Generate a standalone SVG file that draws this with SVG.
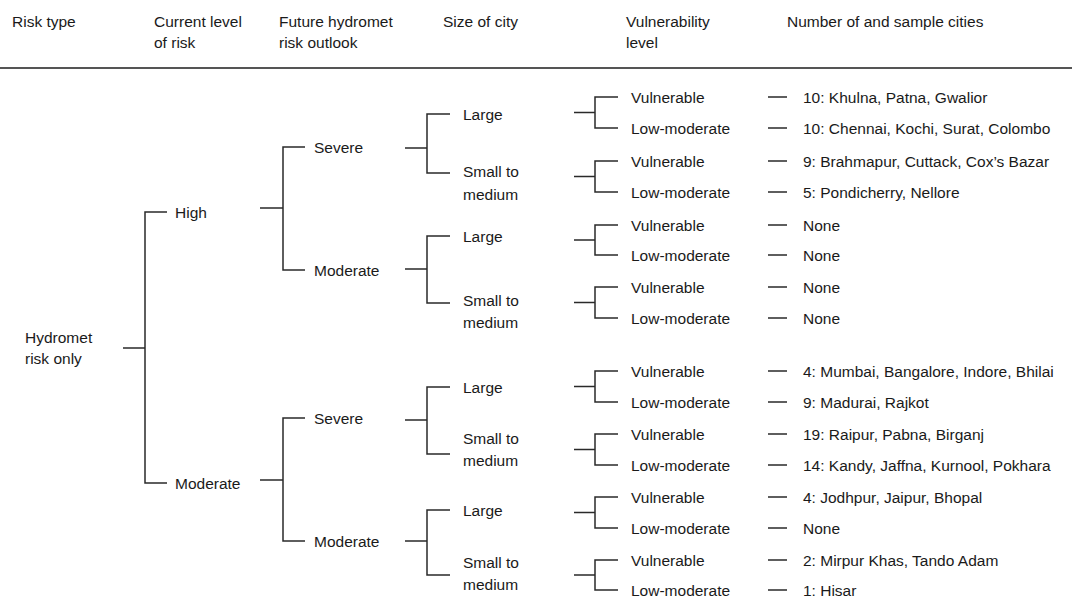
<svg xmlns="http://www.w3.org/2000/svg" width="1072" height="597" viewBox="0 0 1072 597">
<style>
text{font-family:"Liberation Sans",Arial,sans-serif;font-size:15.5px;fill:#1a1a1a}
.c path{fill:none;stroke:#2a2a2a;stroke-width:1.5}
.rule{stroke:#555;stroke-width:2.2}
</style>
<rect width="1072" height="597" fill="#fff"/>
<g id="header">
<text x="12" y="27">Risk type</text>
<text x="154" y="27">Current level</text><text x="154" y="47.5">of risk</text>
<text x="279" y="27">Future hydromet</text><text x="279" y="47.5">risk outlook</text>
<text x="443" y="27">Size of city</text>
<text x="626" y="27">Vulnerability</text><text x="626" y="47.5">level</text>
<text x="787" y="27">Number of and sample cities</text>
<line class="rule" x1="0" y1="68" x2="1072" y2="68"/>
</g>
<g class="c" id="connectors">
<path d="M123,348H145M167,212H145V483H167"/>
<path d="M260,208H283M305,147H283V270H305"/>
<path d="M260,480H283M305,418H283V541H305"/>
<path d="M405,148H427M450,114H427V173H450"/>
<path d="M405,269H427M450,236H427V303H450"/>
<path d="M405,420H427M450,387H427V454H450"/>
<path d="M405,541H427M450,510H427V575H450"/>
<path d="M574,112.5H595M618,97H595V128H618"/>
<path d="M574,176.5H595M618,161H595V192H618"/>
<path d="M574,240H595M618,225H595V255H618"/>
<path d="M574,302.5H595M618,287H595V318H618"/>
<path d="M574,386.5H595M618,371H595V402H618"/>
<path d="M574,449.5H595M618,434H595V465H618"/>
<path d="M574,512.5H595M618,497H595V528H618"/>
<path d="M574,575H595M618,560H595V590H618"/>
<path d="M768,97H787M768,128H787M768,161H787M768,192H787M768,225H787M768,255H787M768,287H787M768,318H787"/>
<path d="M768,371H787M768,402H787M768,434H787M768,465H787M768,497H787M768,528H787M768,560H787M768,590H787"/>
</g>
<g id="root"><text x="25" y="342.5">Hydromet</text><text x="25" y="364">risk only</text></g>
<g id="high"><text x="175" y="217.5">High</text></g>
<g id="moderate-current"><text x="175" y="488.5">Moderate</text></g>
<g id="high-severe"><text x="314" y="152.5">Severe</text></g>
<g id="high-moderate"><text x="314" y="275.5">Moderate</text></g>
<g id="mod-severe"><text x="314" y="423.5">Severe</text></g>
<g id="mod-moderate"><text x="314" y="546.5">Moderate</text></g>
<g id="size-a-large"><text x="463" y="119.5">Large</text></g>
<g id="size-a-small"><text x="463" y="177">Small to</text><text x="463" y="199.5">medium</text></g>
<g id="size-b-large"><text x="463" y="241.5">Large</text></g>
<g id="size-b-small"><text x="463" y="305.5">Small to</text><text x="463" y="327.5">medium</text></g>
<g id="size-c-large"><text x="463" y="392.5">Large</text></g>
<g id="size-c-small"><text x="463" y="444">Small to</text><text x="463" y="466">medium</text></g>
<g id="size-d-large"><text x="463" y="515.5">Large</text></g>
<g id="size-d-small"><text x="463" y="567.5">Small to</text><text x="463" y="589.5">medium</text></g>
<g id="vuln">
<text x="631" y="102.5">Vulnerable</text>
<text x="631" y="133.5">Low-moderate</text>
<text x="631" y="166.5">Vulnerable</text>
<text x="631" y="197.5">Low-moderate</text>
<text x="631" y="230.5">Vulnerable</text>
<text x="631" y="260.5">Low-moderate</text>
<text x="631" y="292.5">Vulnerable</text>
<text x="631" y="323.5">Low-moderate</text>
<text x="631" y="376.5">Vulnerable</text>
<text x="631" y="407.5">Low-moderate</text>
<text x="631" y="439.5">Vulnerable</text>
<text x="631" y="470.5">Low-moderate</text>
<text x="631" y="502.5">Vulnerable</text>
<text x="631" y="533.5">Low-moderate</text>
<text x="631" y="565.5">Vulnerable</text>
<text x="631" y="595.5">Low-moderate</text>
</g>
<g id="cities">
<text x="803" y="102.5">10: Khulna, Patna, Gwalior</text>
<text x="803" y="133.5">10: Chennai, Kochi, Surat, Colombo</text>
<text x="803" y="166.5">9: Brahmapur, Cuttack, Cox’s Bazar</text>
<text x="803" y="197.5">5: Pondicherry, Nellore</text>
<text x="803" y="230.5">None</text>
<text x="803" y="260.5">None</text>
<text x="803" y="292.5">None</text>
<text x="803" y="323.5">None</text>
<text x="803" y="376.5">4: Mumbai, Bangalore, Indore, Bhilai</text>
<text x="803" y="407.5">9: Madurai, Rajkot</text>
<text x="803" y="439.5">19: Raipur, Pabna, Birganj</text>
<text x="803" y="470.5">14: Kandy, Jaffna, Kurnool, Pokhara</text>
<text x="803" y="502.5">4: Jodhpur, Jaipur, Bhopal</text>
<text x="803" y="533.5">None</text>
<text x="803" y="565.5">2: Mirpur Khas, Tando Adam</text>
<text x="803" y="595.5">1: Hisar</text>
</g>
</svg>
